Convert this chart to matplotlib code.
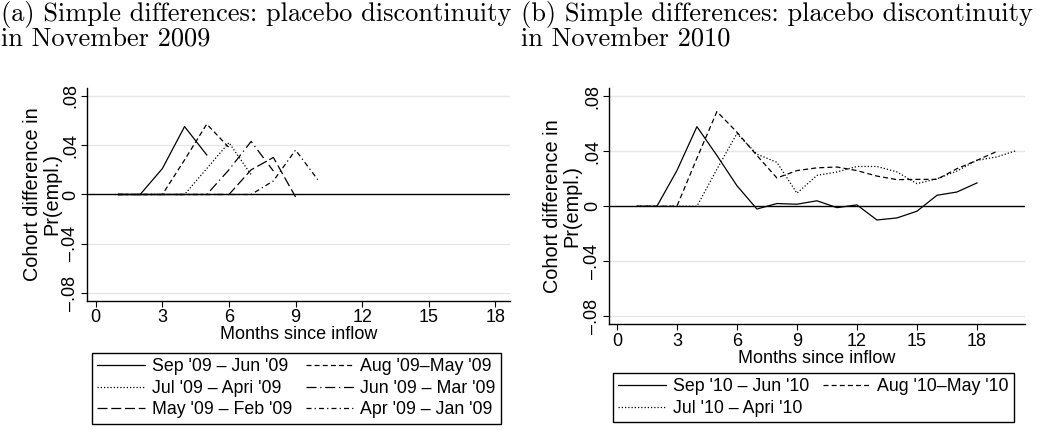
import numpy as np
import matplotlib
matplotlib.use('Agg')
import matplotlib.pyplot as plt
from matplotlib.ticker import FuncFormatter

plt.rcParams['font.family'] = ['Liberation Sans', 'DejaVu Sans']

# Panel (a): cohort differences, placebo cut-off November 2009
sep09 = [0, 0, 0.021, 0.055, 0.032]
aug09 = [0, 0, 0, 0.028, 0.057, 0.038]
jul09 = [0, 0, 0, 0, 0.021, 0.042, 0.016]
jun09 = [0, 0, 0, 0, 0, 0.020, 0.043, 0.019]
may09 = [0, 0, 0, 0, 0, 0, 0.020, 0.030, -0.002]
apr09 = [0, 0, 0, 0, 0, 0, 0, 0.011, 0.036, 0.012]
labels_a = ["Sep '09 \u2013 Jun '09", "Aug '09\u2013May '09",
            "Jul '09 \u2013 Apri '09", "Jun '09 \u2013 Mar '09",
            "May '09 \u2013 Feb '09", "Apr '09 \u2013 Jan '09"]

# Panel (b): placebo cut-off November 2010
sep10 = [0, 0, 0.026, 0.058, 0.037, 0.015, -0.002, 0.002, 0.0015, 0.004,
         -0.001, 0.001, -0.010, -0.0085, -0.0036, 0.008, 0.0104, 0.017]
aug10 = [0, 0, 0, 0.035, 0.069, 0.054, 0.037, 0.0206, 0.026, 0.028,
         0.0286, 0.026, 0.022, 0.0194, 0.0196, 0.0196, 0.0274, 0.0335, 0.040]
jul10 = [0, 0, 0, 0, 0.027, 0.053, 0.038, 0.032, 0.0095, 0.0225, 0.025,
         0.029, 0.029, 0.025, 0.0165, 0.020, 0.0257, 0.0335, 0.036, 0.0407]
labels_b = ["Sep '10 \u2013 Jun '10", "Aug '10\u2013May '10",
            "Jul '10 \u2013 Apri '10"]

xticks = [0, 3, 6, 9, 12, 15, 18]
yticks = [-0.08, -0.04, 0, 0.04, 0.08]

styles = ['-', (0, (4, 2.5)), (0, (1, 1.6)), (0, (8, 3, 1, 3)),
          (0, (8, 3)), (0, (4, 2.5, 1, 2.5))]


def stata_fmt(v, pos):
    if abs(v) < 1e-9:
        return '0'
    s = ('%.2f' % abs(v)).lstrip('0')
    return ('\u2013' + s) if v < 0 else s


def style_axes(ax, xmax, ylab_x):
    ax.set_xlim(-0.38, xmax)
    ax.set_ylim(-0.086, 0.086)
    ax.set_xticks(xticks)
    ax.set_yticks(yticks)
    ax.yaxis.set_major_formatter(FuncFormatter(stata_fmt))
    for yt in [-0.08, -0.04, 0.04, 0.08]:
        ax.axhline(yt, color='#e6e6e6', lw=1, zorder=0)
    ax.axhline(0, color='black', lw=1, zorder=1)
    for s in ['top', 'right']:
        ax.spines[s].set_visible(False)
    ax.spines['left'].set_linewidth(1)
    ax.spines['bottom'].set_linewidth(1)
    ax.tick_params(axis='both', labelsize=13, length=4, width=0.8, pad=2)
    for lab in ax.get_yticklabels():
        lab.set_rotation(90)
        lab.set_va('center')
    ax.set_xlabel('Months since inflow', fontsize=13, labelpad=0)
    ax.set_ylabel('Cohort difference in\nPr(empl.)', fontsize=14.3,
                  linespacing=1.0)
    ax.yaxis.set_label_coords(ylab_x, 0.5)


def add_legend(handles, labels, x, y):
    fig.legend(handles, labels, loc='upper left', bbox_to_anchor=(x, y),
               ncol=2, fontsize=12.8, frameon=True, fancybox=False,
               edgecolor='black', framealpha=1, handlelength=2.7,
               handletextpad=0.35, columnspacing=0.8, borderpad=0.3,
               labelspacing=0.25, borderaxespad=0)


fig = plt.figure(figsize=(10.41, 4.30), dpi=100)
ax1 = fig.add_axes([0.0839, 0.3007, 0.406, 0.494])
ax2 = fig.add_axes([0.5853, 0.2458, 0.3993, 0.549])

handles = []
for ys, ls, lab in zip([sep09, aug09, jul09, jun09, may09, apr09], styles, labels_a):
    m = np.arange(1, len(ys) + 1)
    h, = ax1.plot(m, ys, color='black', lw=0.9, linestyle=ls, label=lab)
    handles.append(h)
style_axes(ax1, 18.66, -0.062)
order = [0, 2, 4, 1, 3, 5]
add_legend([handles[i] for i in order], [labels_a[i] for i in order],
           92 / 1041, 1 - 353 / 430)

handles = []
for ys, ls, lab in zip([sep10, aug10, jul10], styles[:3], labels_b):
    m = np.arange(1, len(ys) + 1)
    h, = ax2.plot(m, ys, color='black', lw=0.9, linestyle=ls, label=lab)
    handles.append(h)
style_axes(ax2, 20.4, -0.068)
order = [0, 2, 1]
add_legend([handles[i] for i in order], [labels_b[i] for i in order],
           613 / 1041, 1 - 373 / 430)

fig.text(0.001, 0.998, '(a) Simple differences: placebo discontinuity\nin November 2009',
         family='cmr10', fontsize=19, va='top', ha='left', linespacing=1.0)
fig.text(521 / 1041, 0.998, '(b) Simple differences: placebo discontinuity\nin November 2010',
         family='cmr10', fontsize=19, va='top', ha='left', linespacing=1.0)

fig.savefig('out.png', dpi=100)
